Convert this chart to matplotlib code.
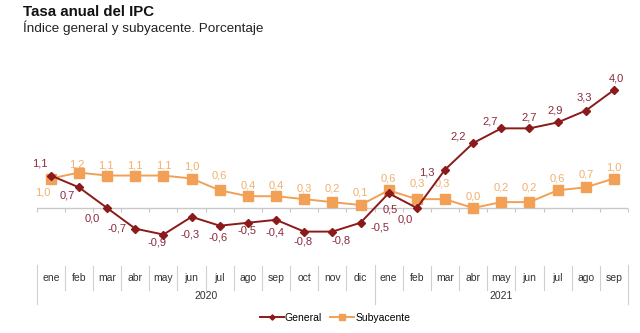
import matplotlib.pyplot as plt
from matplotlib.transforms import blended_transform_factory

plt.rcParams['font.family'] = ['Liberation Sans', 'DejaVu Sans']

months = ["ene", "feb", "mar", "abr", "may", "jun", "jul", "ago", "sep", "oct", "nov", "dic",
          "ene", "feb", "mar", "abr", "may", "jun", "jul", "ago", "sep"]
years = ["2020", "2021"]
months_per_year = [12, 9]

general = [1.1, 0.7, 0.0, -0.7, -0.9, -0.3, -0.6, -0.5, -0.4, -0.8, -0.8, -0.5,
           0.5, 0.0, 1.3, 2.2, 2.7, 2.7, 2.9, 3.3, 4.0]
subyacente = [1.0, 1.2, 1.1, 1.1, 1.1, 1.0, 0.6, 0.4, 0.4, 0.3, 0.2, 0.1,
              0.6, 0.3, 0.3, 0.0, 0.2, 0.2, 0.6, 0.7, 1.0]

# label offsets in pixels (dx, dy), dy positive = up
off_gen = [(-11, 12), (-12, -8), (-15, -10), (-18, 0), (-6, -8), (-2, -18), (-2, -12),
           (-1, -8), (-1, -13), (-1, -10), (9, -9), (19, -5), (2, -16), (-12, -11),
           (-18, -3), (-15, 7), (-11, 7), (0, 11), (-2, 12), (-1, 13), (2, 12)]
off_sub = [(-8, -14), (-2, 8), (-1, 10), (0, 10), (0, 10), (0, 12), (0, 15), (0, 11),
           (0, 11), (0, 11), (0, 14), (0, 13), (0, 12), (0, 16), (-3, 16), (0, 12),
           (0, 15), (0, 15), (0, 12), (0, 13), (0, 11)]

c_gen = "#8b1a1a"
c_gen_lbl = "#8b2a3c"
c_sub = "#f2a055"
c_sub_lbl = "#f0b070"

W, H = 640, 333
fig = plt.figure(figsize=(6.4, 3.33), dpi=100)
ax_left, ax_right = 36.7, 628.0
ax_top, ax_bot = 60.0, 245.0
ax = fig.add_axes([ax_left / W, 1 - ax_bot / H, (ax_right - ax_left) / W, (ax_bot - ax_top) / H])

x = list(range(len(months)))
ax.set_xlim(-0.5, len(months) - 0.5)
ax.set_ylim(-1.254, 5.017)

ax.plot(x, subyacente, color=c_sub, lw=1.4, marker="s", ms=6.5, zorder=3, label="Subyacente")
ax.plot(x, general, color=c_gen, lw=1.4, marker="D", ms=3.8, zorder=4, label="General")

for i, v in enumerate(general):
    dx, dy = off_gen[i]
    ax.annotate(f"{v:.1f}".replace(".", ","), (i, v), xytext=(dx, dy), textcoords="offset pixels",
                ha="center", va="center", fontsize=8, color=c_gen_lbl)
for i, v in enumerate(subyacente):
    dx, dy = off_sub[i]
    ax.annotate(f"{v:.1f}".replace(".", ","), (i, v), xytext=(dx, dy), textcoords="offset pixels",
                ha="center", va="center", fontsize=8, color=c_sub_lbl)

for s in ax.spines.values():
    s.set_visible(False)
ax.set_yticks([])
ax.axhline(0, color="#c8c8c8", lw=1.0, zorder=1)
ax.set_xticks([k - 0.5 for k in range(len(months) + 1)])
ax.set_xticklabels([])
ax.tick_params(axis="x", length=3, color="#c8c8c8", width=0.8, direction="out", pad=0)
ax.spines["bottom"].set_position(("data", 0))
ax.spines["bottom"].set_visible(False)

# category axis below the chart
tr = blended_transform_factory(ax.transData, fig.transFigure)
fy = lambda py: 1 - py / H
for i, m in enumerate(months):
    ax.text(i, fy(278), m, transform=tr, ha="center", va="center", fontsize=7.5,
            color="#333333", clip_on=False)
start = 0
year_edges = [0]
for y, n in zip(years, months_per_year):
    ax.text(start + (n - 1) / 2, fy(296), y, transform=tr, ha="center", va="center",
            fontsize=7.5, color="#333333", clip_on=False)
    start += n
    year_edges.append(start)
for k in range(len(months) + 1):
    if k in year_edges:
        y0, y1 = 265, 304
    else:
        y0, y1 = 266, 290
    ax.plot([k - 0.5, k - 0.5], [fy(y0), fy(y1)], transform=tr, color="#d0d0d0", lw=0.8,
            clip_on=False)

fig.text(23 / W, fy(12), "Tasa anual del IPC", fontsize=10.8, fontweight="bold", va="center",
         color="#111111")
fig.text(23 / W, fy(28), "Índice general y subyacente. Porcentaje", fontsize=9.7, va="center",
         color="#222222")

h, l = ax.get_legend_handles_labels()
fig.legend(h[::-1], l[::-1], loc="center", bbox_to_anchor=(335 / W, fy(318)), ncol=2,
           frameon=False, fontsize=7.5, handlelength=2.3, handletextpad=0.1,
           columnspacing=0.8, markerscale=0.7)

plt.savefig("out.png", dpi=100)
plt.close()
